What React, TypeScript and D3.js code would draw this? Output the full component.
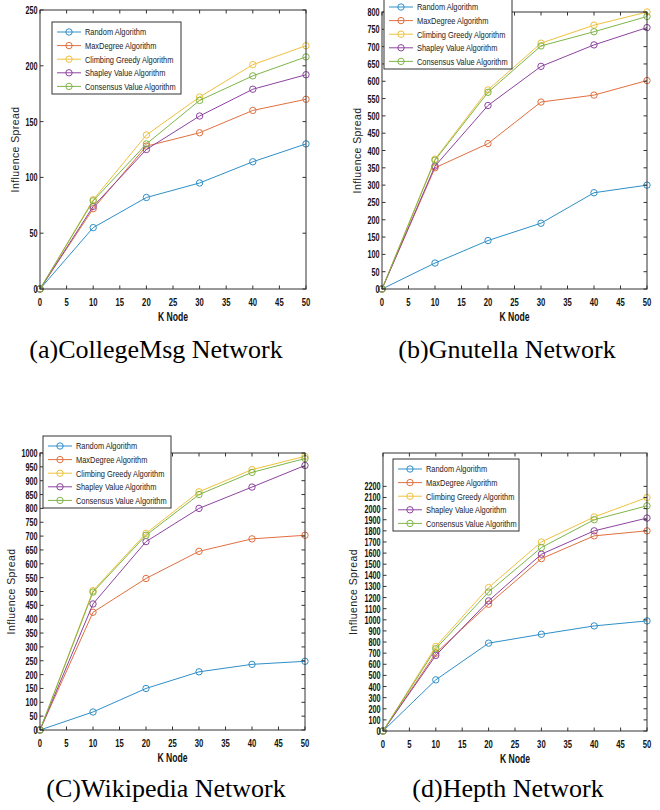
import React from "react";
import * as d3 from "d3";

// shared x values and series
const kNodes = [0, 10, 20, 30, 40, 50];
const xTicks = [0, 5, 10, 15, 20, 25, 30, 35, 40, 45, 50];
const seriesNames = [
  "Random Algorithm",
  "MaxDegree Algorithm",
  "Climbing Greedy Algorithm",
  "Shapley Value Algorithm",
  "Consensus Value Algorithm",
];
const seriesColors = ["#2f8fc8", "#e0703f", "#eec13e", "#8e44a0", "#7fb548"];

// (a) CollegeMsg
const collegeRandom = [0, 55, 82, 95, 114, 130];
const collegeMaxDegree = [0, 72, 128, 140, 160, 170];
const collegeClimbing = [0, 80, 138, 172, 201, 218];
const collegeShapley = [0, 74, 125, 155, 179, 192];
const collegeConsensus = [0, 79, 130, 169, 191, 208];
const collegeTicks = [0, 50, 100, 150, 200, 250];

// (b) Gnutella
const gnutellaRandom = [0, 75, 140, 190, 278, 300];
const gnutellaMaxDegree = [0, 350, 420, 540, 560, 602];
const gnutellaClimbing = [0, 375, 575, 710, 762, 800];
const gnutellaShapley = [0, 355, 530, 643, 705, 755];
const gnutellaConsensus = [0, 372, 568, 702, 743, 787];
const gnutellaTicks = d3.range(0, 801, 50);

// (c) Wikipedia
const wikiRandom = [0, 65, 150, 210, 237, 248];
const wikiMaxDegree = [0, 425, 547, 645, 690, 703];
const wikiClimbing = [0, 503, 710, 860, 940, 988];
const wikiShapley = [0, 455, 680, 800, 877, 955];
const wikiConsensus = [0, 498, 703, 850, 930, 980];
const wikiTicks = d3.range(0, 1001, 50);

// (d) Hepth
const hepthRandom = [0, 460, 790, 870, 945, 990];
const hepthMaxDegree = [0, 700, 1140, 1550, 1755, 1800];
const hepthClimbing = [0, 760, 1290, 1700, 1925, 2100];
const hepthShapley = [0, 680, 1170, 1590, 1800, 1915];
const hepthConsensus = [0, 740, 1250, 1650, 1900, 2025];
const hepthTicks = d3.range(0, 2201, 100);

const sansFont = "'Liberation Sans', Arial, sans-serif";
const axisColor = "#333";

// no narrow font installed, so squeeze regular sans horizontally
const Narrow = ({ x, y, sx, anchor = "start", size, bold = false, fill = "#111", children }) => (
  <text transform={`translate(${x},${y}) scale(${sx},1)`} textAnchor={anchor}
    fontFamily={sansFont} fontWeight={bold ? "bold" : "normal"} fontSize={size} fill={fill}>
    {children}
  </text>
);

const Panel = ({ box, yMax, yTicks, values, legend, ylabelX, caption }) => {
  const x = d3.scaleLinear().domain([0, 50]).range([box.left, box.right]);
  const y = d3.scaleLinear().domain([0, yMax]).range([box.bottom, box.top]);
  const line = d3
    .line<number>()
    .x((_, i) => x(kNodes[i]))
    .y(d => y(d));
  const tl = 3.5; // tick length, inward
  const midX = (box.left + box.right) / 2;
  const midY = (box.top + box.bottom) / 2;

  return (
    <g>
      {/* series */}
      {values.map((vals, s) => (
        <g key={s}>
          <path d={line(vals)} fill="none" stroke={seriesColors[s]} strokeWidth={1} />
          {vals.map((v, i) => (
            <circle key={i} cx={x(kNodes[i])} cy={y(v)} r={3.2} fill="none"
              stroke={seriesColors[s]} strokeWidth={1} />
          ))}
        </g>
      ))}

      {/* frame */}
      <rect x={box.left} y={box.top} width={box.right - box.left} height={box.bottom - box.top}
        fill="none" stroke={axisColor} strokeWidth={1} />

      {/* x ticks (bottom + top) */}
      {xTicks.map(t => (
        <g key={t}>
          <line x1={x(t)} x2={x(t)} y1={box.bottom} y2={box.bottom - tl} stroke={axisColor} />
          <line x1={x(t)} x2={x(t)} y1={box.top} y2={box.top + tl} stroke={axisColor} />
          <Narrow x={x(t)} y={box.bottom + 17} sx={0.7} anchor="middle" size={11} bold>{t}</Narrow>
        </g>
      ))}

      {/* y ticks (left + right) */}
      {yTicks.map(t => (
        <g key={t}>
          <line x1={box.left} x2={box.left + tl} y1={y(t)} y2={y(t)} stroke={axisColor} />
          <line x1={box.right} x2={box.right - tl} y1={y(t)} y2={y(t)} stroke={axisColor} />
          <Narrow x={box.left - 2.5} y={y(t) + 4} sx={0.66} anchor="end" size={11} bold>{t}</Narrow>
        </g>
      ))}

      {/* axis labels */}
      <Narrow x={midX} y={box.bottom + 32} sx={0.72} anchor="middle" size={12} bold>K Node</Narrow>
      <text transform={`translate(${ylabelX},${midY}) rotate(-90)`} textAnchor="middle"
        dominantBaseline="middle" fontFamily={sansFont}
        fontSize={10.5} letterSpacing={0.4} fill="#222">Influence Spread</text>

      {/* legend */}
      <rect x={legend.x} y={legend.y - 10} width={legend.w} height={72} fill="#fff"
        stroke={axisColor} strokeWidth={1} />
      {seriesNames.map((name, s) => {
        const ly = legend.y + s * 13.6;
        return (
          <g key={name}>
            <line x1={legend.x + 5} x2={legend.x + 29} y1={ly} y2={ly}
              stroke={seriesColors[s]} strokeWidth={1} />
            <circle cx={legend.x + 17} cy={ly} r={3.2} fill="none" stroke={seriesColors[s]} />
            <Narrow x={legend.x + 33} y={ly + 3.4} sx={0.8} size={9.3} fill="#222">{name}</Narrow>
          </g>
        );
      })}

      {/* caption */}
      <text x={caption.x} y={caption.y} textAnchor="middle"
        fontFamily="'Liberation Serif', 'Times New Roman', serif" fontSize={26}
        fill="#000">{caption.text}</text>
    </g>
  );
};

export default function App() {
  return (
    <svg width={660} height={810} style={{ position: "absolute", left: 0, top: 0, background: "#fff" }}>
      <Panel
        box={{ left: 40, right: 306, top: 10, bottom: 289 }}
        yMax={250}
        yTicks={collegeTicks}
        values={[collegeRandom, collegeMaxDegree, collegeClimbing, collegeShapley, collegeConsensus]}
        legend={{ x: 52, y: 32, w: 129 }}
        ylabelX={16}
        caption={{ x: 156, y: 358, text: "(a)CollegeMsg Network" }}
      />
      <Panel
        box={{ left: 382, right: 647, top: 12, bottom: 289 }}
        yMax={800}
        yTicks={gnutellaTicks}
        values={[gnutellaRandom, gnutellaMaxDegree, gnutellaClimbing, gnutellaShapley, gnutellaConsensus]}
        legend={{ x: 384, y: 7, w: 128 }}
        ylabelX={358}
        caption={{ x: 507, y: 358, text: "(b)Gnutella Network" }}
      />
      <Panel
        box={{ left: 40, right: 305, top: 453, bottom: 730 }}
        yMax={1000}
        yTicks={wikiTicks}
        values={[wikiRandom, wikiMaxDegree, wikiClimbing, wikiShapley, wikiConsensus]}
        legend={{ x: 43, y: 446, w: 128 }}
        ylabelX={12}
        caption={{ x: 166, y: 797, text: "(C)Wikipedia Network" }}
      />
      <Panel
        box={{ left: 383, right: 647, top: 453, bottom: 731 }}
        yMax={2500}
        yTicks={hepthTicks}
        values={[hepthRandom, hepthMaxDegree, hepthClimbing, hepthShapley, hepthConsensus]}
        legend={{ x: 393, y: 469, w: 126 }}
        ylabelX={354}
        caption={{ x: 508, y: 797, text: "(d)Hepth Network" }}
      />
    </svg>
  );
}
